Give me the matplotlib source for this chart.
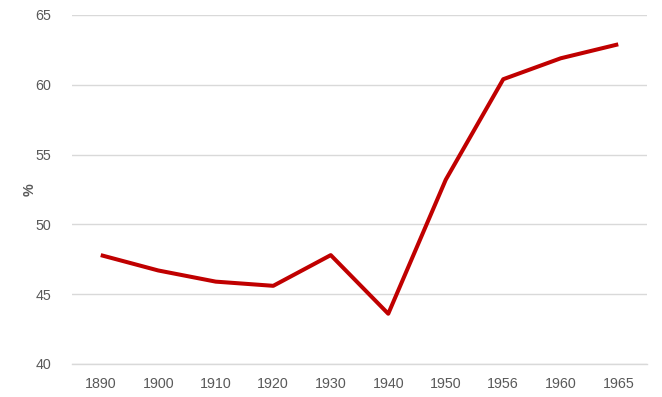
import matplotlib
matplotlib.use("Agg")
import matplotlib.pyplot as plt

years = ["1890", "1900", "1910", "1920", "1930", "1940", "1950", "1956", "1960", "1965"]
values = [47.8, 46.7, 45.9, 45.6, 47.8, 43.6, 53.2, 60.4, 61.9, 62.9]
yticks = [40, 45, 50, 55, 60, 65]

plt.rcParams['font.family'] = ['Liberation Sans', 'DejaVu Sans']
fig = plt.figure(figsize=(6.62, 3.97), dpi=100)
ax = fig.add_axes([72/662, 1 - 364/397, (647-72)/662, (364-15)/397])

x = list(range(len(years)))
ax.plot(x, values, color="#C00000", linewidth=2.9, solid_capstyle="butt", solid_joinstyle="round")
ax.set_xlim(-0.5, len(years) - 0.5)
ax.set_ylim(40, 65)
ax.set_yticks(yticks)
ax.set_xticks(x)
ax.set_xticklabels(years)
ax.grid(axis="y", color="#D9D9D9", linewidth=1)
ax.set_axisbelow(True)
for s in ["top", "right", "left"]:
    ax.spines[s].set_visible(False)
ax.spines["bottom"].set_color("#D9D9D9")
ax.spines["bottom"].set_linewidth(1)
ax.tick_params(axis="both", length=0, labelsize=10.3, colors="#595959")
ax.tick_params(axis="y", pad=15)
ax.tick_params(axis="x", pad=9)
ax.set_ylabel("%", fontsize=10.3, color="#595959", fontweight="bold")
ax.yaxis.set_label_coords((37 - 72) / 575, 0.5)

fig.savefig("out.png", dpi=100)
